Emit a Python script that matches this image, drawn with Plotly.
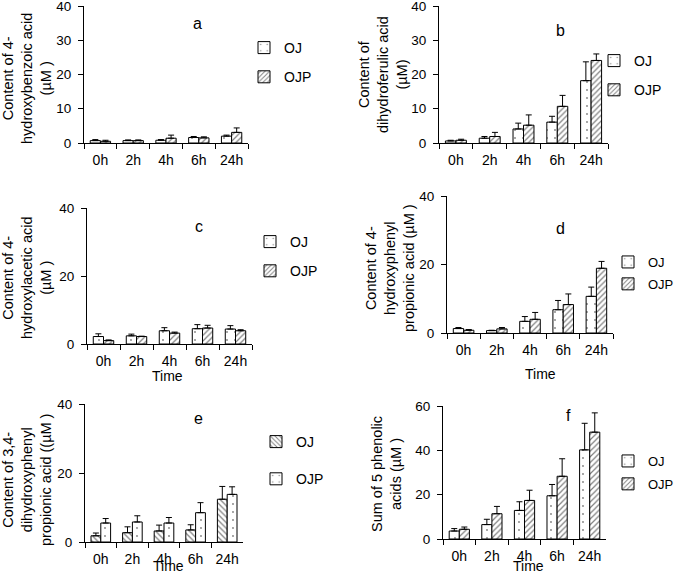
import plotly.graph_objects as go

W, H = 685, 574
FONT = "Liberation Sans, Arial, sans-serif"

cats = ["0h", "2h", "4h", "6h", "24h"]

# panel a: 4-hydroxybenzoic acid
a_oj = [0.7, 0.7, 0.8, 1.6, 2.0]
a_oj_err = [0.3, 0.2, 0.2, 0.3, 0.3]
a_ojp = [0.5, 0.7, 1.4, 1.5, 3.1]
a_ojp_err = [0.3, 0.2, 0.9, 0.3, 1.3]

# panel b: dihydroferulic acid
b_oj = [0.6, 1.4, 4.1, 6.1, 18.2]
b_oj_err = [0.2, 0.5, 1.7, 1.7, 5.5]
b_ojp = [0.8, 1.9, 5.2, 10.7, 24.1]
b_ojp_err = [0.3, 1.2, 3.0, 3.2, 1.9]

# panel c: 4-hydroxylacetic acid
c_oj = [2.2, 2.4, 3.9, 4.5, 4.4]
c_oj_err = [0.8, 0.5, 0.9, 1.2, 1.0]
c_ojp = [1.0, 2.2, 3.2, 4.7, 3.9]
c_ojp_err = [0.2, 0.1, 0.3, 0.8, 0.3]

# panel d: 4-hydroxyphenyl propionic acid
d_oj = [1.3, 0.7, 3.4, 6.8, 10.7]
d_oj_err = [0.3, 0.1, 1.4, 2.7, 2.7]
d_ojp = [0.8, 1.2, 4.0, 8.3, 18.9]
d_ojp_err = [0.2, 0.4, 2.0, 3.1, 2.0]

# panel e: 3,4-dihydroxyphenyl propionic acid
e_oj = [1.8, 2.7, 3.2, 3.5, 12.4]
e_oj_err = [0.8, 1.7, 1.7, 1.5, 3.7]
e_ojp = [5.5, 5.8, 5.5, 8.5, 13.8]
e_ojp_err = [1.3, 1.8, 1.6, 2.9, 2.2]

# panel f: sum of 5 phenolic acids
f_oj = [3.6, 6.5, 12.9, 19.5, 40.2]
f_oj_err = [1.1, 2.4, 3.9, 5.1, 12.0]
f_ojp = [4.4, 11.4, 17.4, 28.3, 48.2]
f_ojp_err = [1.0, 3.3, 4.6, 7.9, 8.7]

series_names = ["OJ", "OJP"]


def px(x):
    return x / W


def py(y):
    return 1 - y / H


DOTS = dict(shape=".", fgcolor="black", bgcolor="white", size=8, solidity=0.04)
HATCH = dict(shape="/", fgcolor="black", bgcolor="white", size=4, solidity=0.3)
BACK = dict(shape="\\", fgcolor="black", bgcolor="white", size=4, solidity=0.3)

panels = [
    dict(letter="a", oj=a_oj, oje=a_oj_err, ojp=a_ojp, ojpe=a_ojp_err, pats=(DOTS, HATCH),
         x=(84, 248), y=(6, 143), ymax=40, dtick=10,
         ytitle="Content of 4-<br>hydroxybenzoic acid<br>(µM )", yt=(27, 79),
         lp=(197, 24), leg=(244, 32), gap=8, lfs=14, time=None),
    dict(letter="b", oj=b_oj, oje=b_oj_err, ojp=b_ojp, ojpe=b_ojp_err, pats=(DOTS, HATCH),
         x=(439, 608), y=(6, 143), ymax=40, dtick=10,
         ytitle="Content of<br>dihydroferulic acid<br>(µM)", yt=(383, 75),
         lp=(560, 30), leg=(594, 45), gap=8, lfs=14, time=None),
    dict(letter="c", oj=c_oj, oje=c_oj_err, ojp=c_ojp, ojpe=c_ojp_err, pats=(DOTS, HATCH),
         x=(87, 252), y=(208, 344), ymax=40, dtick=20,
         ytitle="Content of 4-<br>hydroxylacetic acid<br>(µM )", yt=(27, 278),
         lp=(199, 226), leg=(250, 226), gap=8, lfs=14, time=(167, 376)),
    dict(letter="d", oj=d_oj, oje=d_oj_err, ojp=d_ojp, ojpe=d_ojp_err, pats=(DOTS, HATCH),
         x=(447, 613), y=(196, 333), ymax=40, dtick=20,
         ytitle="Content of 4-<br>hydroxyphenyl<br>propionic acid (µM )", yt=(390, 268),
         lp=(560, 228), leg=(608, 247), gap=2, lfs=13, time=(540, 374)),
    dict(letter="e", oj=e_oj, oje=e_oj_err, ojp=e_ojp, ojpe=e_ojp_err, pats=(BACK, DOTS),
         x=(85, 243), y=(404, 542), ymax=40, dtick=20,
         ytitle="Content of 3,4-<br>dihydroxyphenyl<br>propionic acid ((µM )", yt=(27, 480),
         lp=(198, 418), leg=(256, 426), gap=16, lfs=14, time=(168, 566)),
    dict(letter="f", oj=f_oj, oje=f_oj_err, ojp=f_ojp, ojpe=f_ojp_err, pats=(DOTS, HATCH),
         x=(443, 606), y=(406, 539), ymax=60, dtick=20,
         ytitle="Sum of 5 phenolic<br>acids (µM )", yt=(386, 474),
         lp=(568, 415), leg=(608, 446), gap=3, lfs=13, time=(528, 566)),
]

fig = go.Figure()
annotations = []
layout = {}

for i, p in enumerate(panels):
    n = "" if i == 0 else str(i + 1)
    xa, ya = "x" + n, "y" + n
    lg = "legend" + n
    for name, vals, errs, pat in [
        ("OJ", p["oj"], p["oje"], p["pats"][0]),
        ("OJP", p["ojp"], p["ojpe"], p["pats"][1]),
    ]:
        fig.add_trace(go.Bar(
            x=cats, y=vals, name=name, xaxis=xa, yaxis=ya, legend=lg,
            legendgroup=f"{p['letter']}_{name}",
            marker=dict(color="white", line=dict(color="black", width=1), pattern=pat),
            error_y=dict(type="data", symmetric=False, array=errs,
                         arrayminus=[0] * len(errs), color="black", thickness=1, width=3),
        ))
    layout["xaxis" + n] = dict(
        domain=[px(p["x"][0]), px(p["x"][1])], anchor=ya, type="category",
        showline=True, linecolor="black", linewidth=1, ticks="outside", tickson="boundaries",
        ticklen=5, tickcolor="black", showgrid=False, zeroline=False, tickangle=0,
        tickfont=dict(family=FONT, size=14, color="black"), ticklabelstandoff=4,
        fixedrange=True, automargin=False, ticklabeloverflow="allow",
    )
    layout["yaxis" + n] = dict(
        domain=[py(p["y"][1]), py(p["y"][0])], anchor=xa, range=[0, p["ymax"]],
        dtick=p["dtick"], tick0=0, showline=True, linecolor="black", linewidth=1,
        ticks="outside", ticklen=5, tickcolor="black", showgrid=False, zeroline=False,
        tickfont=dict(family=FONT, size=13.5, color="black"), ticklabelstandoff=4,
        fixedrange=True, automargin=False, ticklabeloverflow="allow",
    )
    layout[lg] = dict(
        x=px(p["leg"][0]), y=py(p["leg"][1]), xanchor="left", yanchor="top",
        bgcolor="rgba(0,0,0,0)", font=dict(family=FONT, size=p["lfs"], color="black"),
        tracegroupgap=p["gap"], orientation="v",
    )
    annotations.append(dict(
        text=p["ytitle"], x=px(p["yt"][0]), y=py(p["yt"][1]), xref="paper", yref="paper",
        xanchor="center", yanchor="middle", textangle=-90, showarrow=False,
        font=dict(family=FONT, size=14.5, color="black"),
    ))
    annotations.append(dict(
        text=p["letter"], x=px(p["lp"][0]), y=py(p["lp"][1]), xref="paper", yref="paper",
        xanchor="center", yanchor="middle", showarrow=False,
        font=dict(family=FONT, size=16, color="black"),
    ))
    if p["time"]:
        annotations.append(dict(
            text="Time", x=px(p["time"][0]), y=py(p["time"][1]), xref="paper", yref="paper",
            xanchor="center", yanchor="middle", showarrow=False,
            font=dict(family=FONT, size=14, color="black"),
        ))

fig.update_layout(
    width=W, height=H, margin=dict(l=0, r=0, t=0, b=0, autoexpand=False),
    paper_bgcolor="white", plot_bgcolor="white",
    barmode="group", bargap=0.38, bargroupgap=0.0,
    annotations=annotations, **layout,
)

fig.write_html(
    "out.html",
    config={"displayModeBar": False},
    post_script="document.body.style.margin='0';document.body.style.padding='0';",
)
